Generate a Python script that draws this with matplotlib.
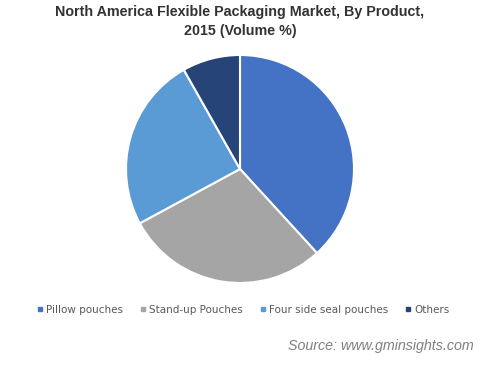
import matplotlib.pyplot as plt
from matplotlib.lines import Line2D

products = ['Pillow pouches', 'Stand-up Pouches', 'Four side seal pouches', 'Others']
shares = [38.2, 28.9, 24.7, 8.2]
colors = ['#4472C4', '#A5A5A5', '#5B9BD5', '#264478']

W, H = 480, 368
fig = plt.figure(figsize=(W / 100, H / 100), dpi=100)

# pie centred at (240, 169) px, radius ~114 px
cx, cy, r = 240, 169, 114
ax = fig.add_axes([(cx - r) / W, (H - cy - r) / H, 2 * r / W, 2 * r / H])
ax.pie(shares, colors=colors, startangle=90, counterclock=False,
       wedgeprops=dict(edgecolor='white', linewidth=1.5))
ax.set_xlim(-1, 1)
ax.set_ylim(-1, 1)
ax.set_aspect('equal')
ax.axis('off')

fig.text(0.5, 1 - 21.5 / H, 'North America Flexible Packaging Market, By Product,\n2015 (Volume %)',
         ha='center', va='center', fontsize=10.25, fontweight='bold', color='#333333',
         family='Liberation Sans', linespacing=1.45)

handles = [Line2D([], [], marker='s', linestyle='none', markersize=3.5,
                  markerfacecolor=c, markeredgecolor=c) for c in colors]
fig.legend(handles, products, loc='center', bbox_to_anchor=(0.507, 1 - 310 / H),
           ncol=4, frameon=False, fontsize=7.5, handlelength=0.6, handletextpad=0.3,
           columnspacing=1.6, labelcolor='#595959')

fig.text(474 / W, 1 - 346 / H, 'Source: www.gminsights.com', ha='right', va='center',
         fontsize=10.3, style='italic', color='#808080', family='Liberation Sans')

fig.savefig('out.png', dpi=100, facecolor='white')
